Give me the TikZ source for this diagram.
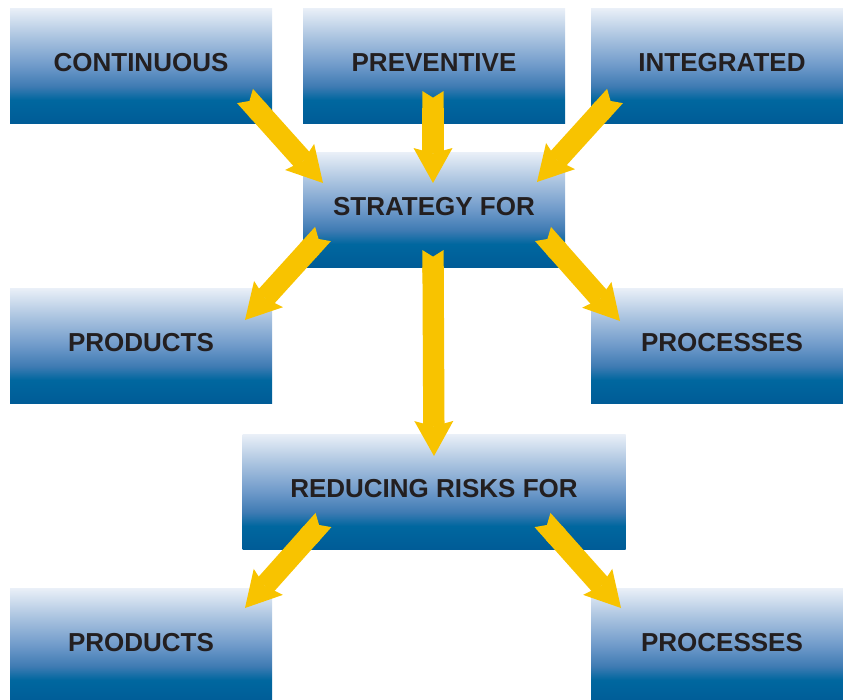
\documentclass[tikz,border=0pt]{standalone}
\usepackage{fontspec}
\setmainfont{Liberation Sans}
\usetikzlibrary{arrows.meta,calc,positioning}
\definecolor{boxtop}{HTML}{EAF0F8}
\definecolor{boxpale}{HTML}{ABC4E0}
\definecolor{boxsoft}{HTML}{6F9ACA}
\definecolor{boxmid}{HTML}{3F7BB3}
\definecolor{boxdark}{HTML}{00679F}
\definecolor{boxdeep}{HTML}{005C97}
\definecolor{arrowyellow}{HTML}{F8C300}
\definecolor{labelink}{HTML}{231F20}
% light at the top, deep blue in the lower fifth
\pgfdeclareverticalshading{boxshade}{100bp}{color(0bp)=(boxdeep); color(25bp)=(boxdeep); color(35bp)=(boxdark); color(41bp)=(boxmid); color(50bp)=(boxsoft); color(62.5bp)=(boxpale); color(75bp)=(boxtop); color(100bp)=(boxtop)}
\tikzset{
box/.style={shading=boxshade, minimum width=196.5pt, minimum height=86.25pt, inner sep=0pt, outer sep=0pt, text depth=4pt, text=labelink, font=\bfseries\fontsize{19.5}{22}\selectfont}, % blue boxes
flow/.style={draw=arrowyellow, line width=16pt, {Triangle Cap[reversed, length=5pt]}-{Stealth[length=26.25pt, width=29.25pt, inset=4pt, line width=0pt]}}, % fat yellow arrows
}
\begin{document}
\begin{tikzpicture}[x=0.75pt, y=-0.75pt]
\useasboundingbox (0,0) rectangle (843,700);
\node[box] (prev) at (434,65.5) {PREVENTIVE};
\node[box, left=23.25pt of prev] (cont) {CONTINUOUS};
\node[box, right=19.5pt of prev] (integ) {INTEGRATED};
\node[box, below=21.75pt of prev] (strat) {STRATEGY FOR};
\node[box, below=123.75pt of cont] (prod1) {PRODUCTS};
\node[box, below=123.75pt of integ] (proc1) {PROCESSES};
\node[box, minimum width=287.25pt, below=125.25pt of strat] (red) {REDUCING RISKS FOR};
\node[box, below=138.75pt of prod1] (prod2) {PRODUCTS};
\node[box, below=138.75pt of proc1] (proc2) {PROCESSES};
% into the strategy box
\draw[flow] ($(cont.south east)+(-27,-27)$) -- ($(strat.north west)+(20,31)$);
\draw[flow] ($(prev.south)+(-1,-32)$) -- ($(strat.north)+(-1,31)$);
\draw[flow] ($(integ.south west)+(24,-27)$) -- ($(strat.north east)+(-28,30)$);
% out of it
\draw[flow] ($(strat.south west)+(20,-33)$) -- ($(prod1.north east)+(-27,32)$);
\draw[flow] ($(strat.south east)+(-22,-33)$) -- ($(proc1.north west)+(29,33)$);
\draw[flow] ($(strat.south)+(-1,-17)$) -- ($(red.north)+(0,22)$);
\draw[flow] ($(red.south west)+(81,-29)$) -- ($(prod2.north east)+(-27,20)$);
\draw[flow] ($(red.south east)+(-83,-29)$) -- ($(proc2.north west)+(30,20)$);
\end{tikzpicture}
\end{document}
